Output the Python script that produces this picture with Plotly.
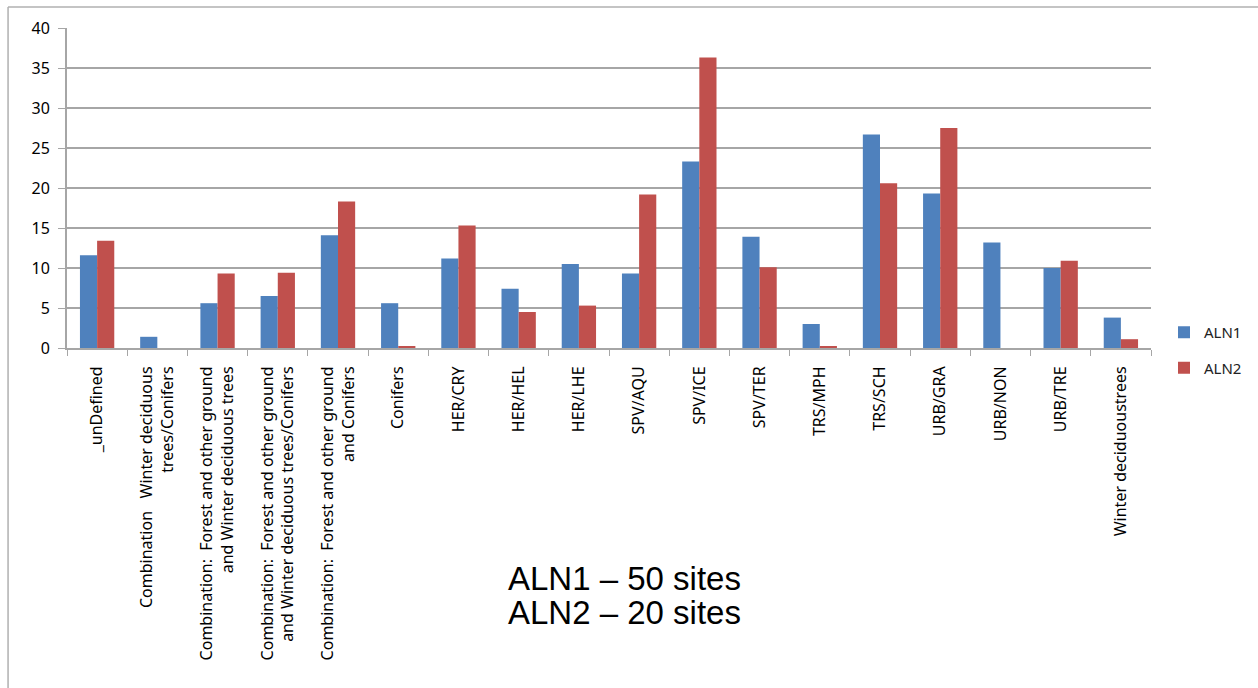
import plotly.graph_objects as go

# Land-cover classes along the x axis
categories = [
    "_unDefined",
    "Combination   Winter deciduous<br>trees/Conifers",
    "Combination:  Forest and other ground<br>and Winter deciduous trees",
    "Combination:  Forest and other ground<br>and Winter deciduous trees/Conifers",
    "Combination:  Forest and other ground<br>and Conifers",
    "Conifers",
    "HER/CRY",
    "HER/HEL",
    "HER/LHE",
    "SPV/AQU",
    "SPV/ICE",
    "SPV/TER",
    "TRS/MPH",
    "TRS/SCH",
    "URB/GRA",
    "URB/NON",
    "URB/TRE",
    "Winter deciduoustrees",
]

# Percentage of sites per class
aln1 = [11.6, 1.4, 5.6, 6.5, 14.1, 5.6, 11.2, 7.4, 10.5, 9.3, 23.3, 13.9, 3.0, 26.7, 19.3, 13.2, 10.0, 3.8]
aln2 = [13.4, 0.0, 9.3, 9.4, 18.3, 0.2, 15.3, 4.5, 5.3, 19.2, 36.3, 10.1, 0.2, 20.6, 27.5, 0.0, 10.9, 1.1]

y_ticks = [0, 5, 10, 15, 20, 25, 30, 35, 40]

BLUE = "#4f81bd"
RED = "#c0504d"
GRID = "#a6a6a6"
LABEL_FONT = "Noto Sans, Open Sans, sans-serif"

fig = go.Figure()
fig.add_trace(go.Bar(
    x=categories, y=aln1, name="ALN1", legendgroup="a1",
    marker=dict(color=BLUE, line=dict(width=0)),
))
fig.add_trace(go.Bar(
    x=categories, y=aln2, name="ALN2", legendgroup="a2",
    marker=dict(color=RED, line=dict(width=0)),
))

# Plot-area geometry in pixels, used to place the frame, legend and note
PLOT_L, PLOT_R, PLOT_T, PLOT_B = 67, 1152, 28, 348
PW, PH = PLOT_R - PLOT_L, PLOT_B - PLOT_T


def px_x(x):
    return (x - PLOT_L) / PW


def px_y(y):
    return (PLOT_B - y) / PH


# Outer chart frame (top and left edges visible)
fig.add_shape(type="line", xref="paper", yref="paper",
              x0=px_x(8), x1=px_x(1270), y0=px_y(7), y1=px_y(7),
              line=dict(color="#b0b0b0", width=1.5))
fig.add_shape(type="line", xref="paper", yref="paper",
              x0=px_x(8), x1=px_x(8), y0=px_y(7), y1=px_y(700),
              line=dict(color="#b0b0b0", width=1.5))

note_lines = ["ALN1 – 50 sites", "ALN2 – 20 sites"]
note_y = [578, 612]
for line, yc in zip(note_lines, note_y):
    fig.add_annotation(
        text=line, xref="paper", yref="paper",
        x=px_x(506), y=px_y(yc),
        xanchor="left", yanchor="middle",
        showarrow=False,
        font=dict(family="Liberation Sans, Arial, sans-serif", size=33, color="#000000"),
    )

fig.update_layout(
    width=1258, height=688,
    margin=dict(l=PLOT_L, r=1258 - PLOT_R, t=PLOT_T, b=688 - PLOT_B),
    paper_bgcolor="white", plot_bgcolor="white",
    barmode="group", bargap=0.43, bargroupgap=0.0,
    font=dict(family=LABEL_FONT, size=14, color="#000000"),
    legend=dict(
        x=px_x(1164), y=px_y(350), xanchor="left", yanchor="middle",
        font=dict(size=15, color="#222222"),
        tracegroupgap=13,
        bgcolor="rgba(0,0,0,0)",
    ),
    showlegend=True,
)

fig.update_xaxes(
    type="category",
    tickangle=-90,
    showgrid=False,
    showline=True, linecolor=GRID, linewidth=2,
    ticks="outside", ticklen=6, tickcolor=GRID, tickwidth=1,
    tickson="boundaries",
    ticklabelstandoff=10,
    automargin=False,
    tickfont=dict(size=16, family=LABEL_FONT, color="#000000"),
)
fig.update_yaxes(
    range=[0, 40],
    tickvals=y_ticks,
    showgrid=True, gridcolor=GRID, gridwidth=2,
    showline=True, linecolor=GRID, linewidth=2,
    ticks="outside", ticklen=7, tickcolor=GRID,
    ticklabelstandoff=5,
    zeroline=False,
    automargin=False,
    tickfont=dict(size=16, family=LABEL_FONT, color="#000000"),
)

fig.write_html("out.html")
